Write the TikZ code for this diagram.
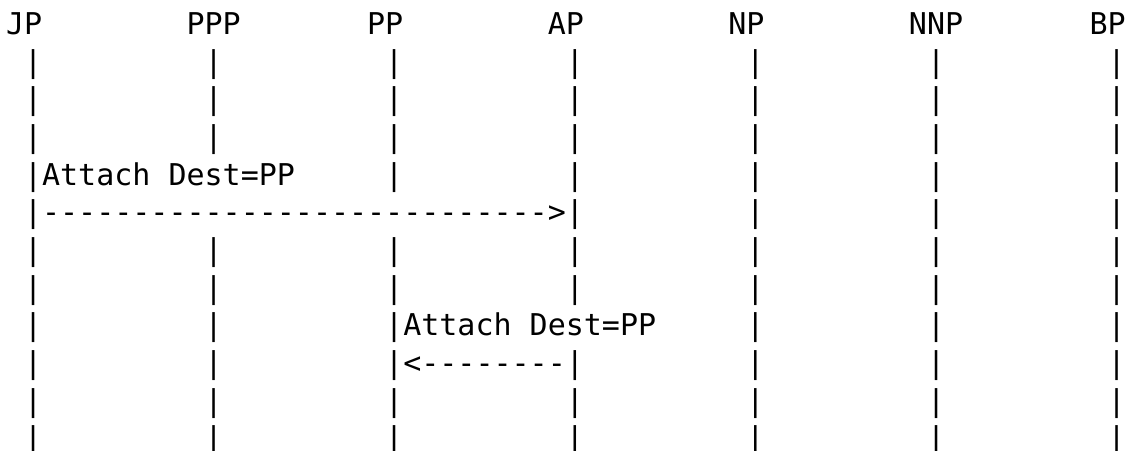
\documentclass[tikz,border=0pt]{standalone}
\usepackage{fontspec}
\setmonofont{DejaVu Sans Mono}[Ligatures=TeXOff]
\begin{document}
\begin{tikzpicture}[
  txt/.style={inner sep=0pt, outer sep=0pt, anchor=base west,
    font=\fontsize{15}{18}\selectfont\ttfamily},
  x=9.03pt, y=-18.85pt]
\path[use as bounding box] (-0.3322,-0.9098) rectangle (62.24,11.053);
% header (row 0)
\foreach \c/\t in {0/JP,10/PPP,20/PP,30/AP,40/NP,50/NNP,60/BP}
  \node[txt] (h-\t) at (\c,0) {\t};
% plain bar rows
\foreach \r in {1,2,3,6,7,10,11}
  \foreach \c in {1,11,21,31,41,51,61}
    \node[txt] (b-\r-\c) at (\c,\r) {|};
% row 4
\node[txt] (m1) at (1,4) {|Attach Dest=PP};
\foreach \c in {21,31,41,51,61}
  \node[txt] (b-4-\c) at (\c,4) {|};
% row 5
\node[txt] (a1) at (1,5) {|---------------------------->|};
\foreach \c in {41,51,61}
  \node[txt] (b-5-\c) at (\c,5) {|};
% row 8
\foreach \c in {1,11,41,51,61}
  \node[txt] (b-8-\c) at (\c,8) {|};
\node[txt] (m2) at (21,8) {|Attach Dest=PP};
% row 9
\foreach \c in {1,11,41,51,61}
  \node[txt] (b-9-\c) at (\c,9) {|};
\node[txt] (a2) at (21,9) {|<--------|};
\end{tikzpicture}
\end{document}
